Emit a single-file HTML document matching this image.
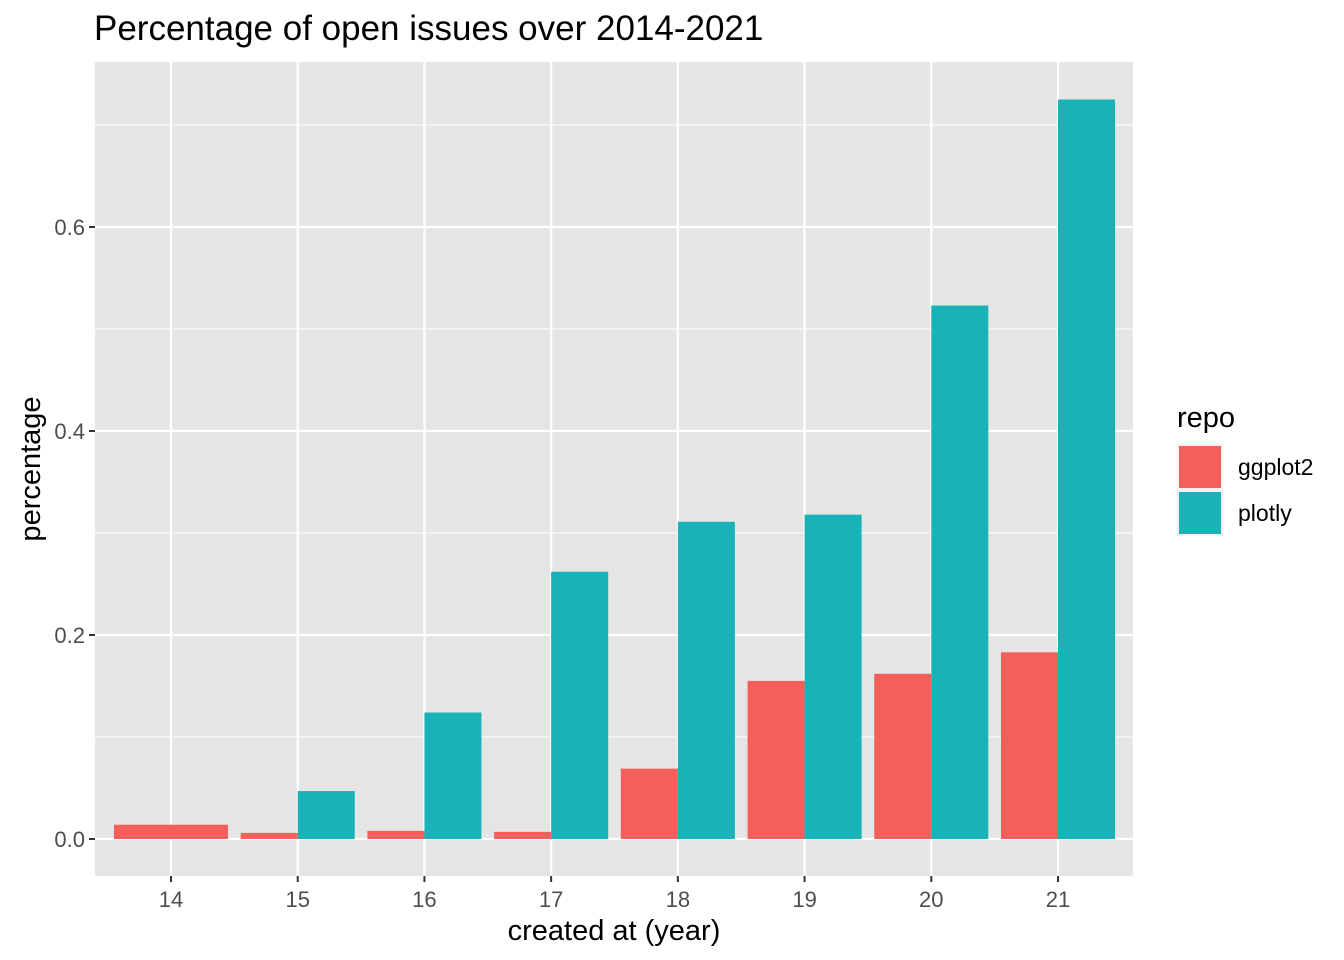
<!DOCTYPE html>
<html><head><meta charset="utf-8"><style>body{margin:0;background:#fff}svg{display:block;font-family:"Liberation Sans",Arial,sans-serif}</style></head>
<body>
<svg id="chart" width="1344" height="960"></svg>
<script>
const years = ["14","15","16","17","18","19","20","21"];
const ggplot2 = [0.014,0.006,0.008,0.007,0.069,0.155,0.162,0.183];
const plotly = [null,0.047,0.124,0.262,0.311,0.318,0.523,0.725];
const yTicks = [0,0.2,0.4,0.6];
const yTickLabels = ["0.0","0.2","0.4","0.6"];

const NS="http://www.w3.org/2000/svg";
const svg=document.getElementById('chart');
const P={l:95,r:1133,t:62,b:876};
const y0=839, k=1020;
const yS=v=>y0-v*k;
const x0=171, dx=(1058-171)/7;
const xS=i=>x0+i*dx;
const RED='#f35f5a', TEAL='#19b2b7';
function mk(t,a,txt){const e=document.createElementNS(NS,t);for(const n in a)e.setAttribute(n,a[n]);if(txt!=null)e.textContent=txt;svg.appendChild(e);return e;}

let e=mk('rect',{x:P.l,y:P.t,width:P.r-P.l,height:P.b-P.t,fill:'#e5e5e5'});


for(let v=0.1;v<0.75;v+=0.2){e=mk('line',{x1:P.l,x2:P.r,y1:yS(v),y2:yS(v),stroke:'#fff','stroke-width':1});

}
yTicks.forEach((v,i)=>{e=mk('line',{x1:P.l,x2:P.r,y1:yS(v),y2:yS(v),stroke:'#fff','stroke-width':2.2});


e=mk('line',{x1:P.l-6,x2:P.l,y1:yS(v),y2:yS(v),stroke:'#333','stroke-width':2});


e=mk('text',{x:P.l-10,y:yS(v)+8,'text-anchor':'end','font-size':22,fill:'#4d4d4d'},yTickLabels[i]);

});
years.forEach((yr,i)=>{const x=xS(i);
e=mk('line',{x1:x,x2:x,y1:P.t,y2:P.b,stroke:'#fff','stroke-width':2.2});


e=mk('line',{x1:x,x2:x,y1:P.b,y2:P.b+6,stroke:'#333','stroke-width':2});


e=mk('text',{x:x,y:907,'text-anchor':'middle','font-size':22,fill:'#4d4d4d'},yr);

});
const bw=dx*0.9;
years.forEach((yr,i)=>{const x=xS(i);const g=ggplot2[i],p=plotly[i];
if(p==null){e=mk('rect',{x:x-bw/2,y:yS(g),width:bw,height:y0-yS(g),fill:RED});

}
else{e=mk('rect',{x:x-bw/2,y:yS(g),width:bw/2,height:y0-yS(g),fill:RED});


e=mk('rect',{x:x,y:yS(p),width:bw/2,height:y0-yS(p),fill:TEAL});

}});
e=mk('text',{x:94,y:40,'font-size':35,fill:'#000'},'Percentage of open issues over 2014-2021');


e=mk('text',{x:614,y:940,'text-anchor':'middle','font-size':29,fill:'#000'},'created at (year)');


e=mk('text',{x:0,y:0,'text-anchor':'middle','font-size':29,fill:'#000',transform:'translate(40,469) rotate(-90)'},'percentage');


e=mk('text',{x:1177,y:427,'font-size':29,fill:'#000'},'repo');


[['ggplot2',RED,445],['plotly',TEAL,491]].forEach(([n,c,y])=>{
e=mk('rect',{x:1178,y:y,width:44,height:44,fill:c,stroke:'#f2f2f2','stroke-width':2});


e=mk('text',{x:1238,y:y+30,'font-size':23,fill:'#000'},n);

});
</script>
</body></html>
